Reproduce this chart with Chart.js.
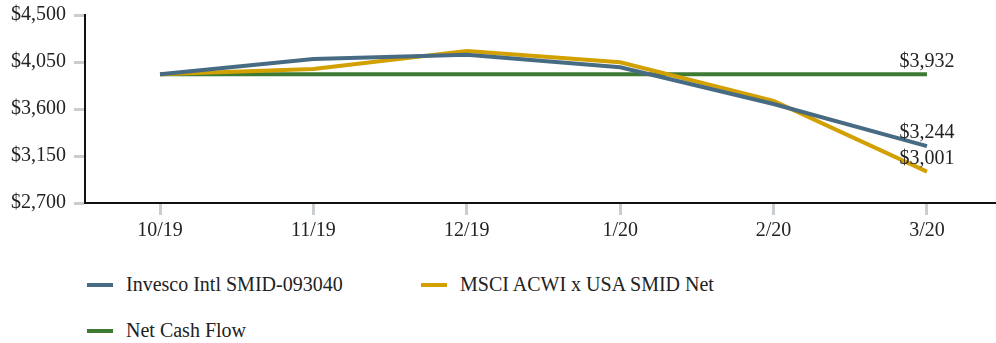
<!DOCTYPE html>
<html>
<head>
<meta charset="utf-8">
<script src="https://cdn.jsdelivr.net/npm/chart.js"></script>
<style>
  body { margin: 0; background: #fff; }
  #wrap { position: relative; width: 996px; height: 343px; }
  #chartBox { position: absolute; left: 0; top: 0; width: 996px; height: 260px; }
  .legend-item {
    position: absolute; display: flex; align-items: center;
    font-family: "Liberation Serif", "DejaVu Serif", serif; font-size: 20px; color: #222;
  }
  .legend-item .swatch { width: 26px; height: 4px; margin-right: 13px; }
</style>
</head>
<body>
<div id="wrap">
  <div id="chartBox"><canvas id="growthChart"></canvas></div>
  <div id="legend"></div>
</div>

<script>
/* ---------- DATA ---------- */
const months = ["10/19", "11/19", "12/19", "1/20", "2/20", "3/20"];
const invesco = [3932, 4079, 4119, 3999, 3648, 3244];
const msci = [3932, 3983, 4155, 4047, 3677, 3001];
const netCash = [3932, 3932, 3932, 3932, 3932, 3932];
const yTicks = [2700, 3150, 3600, 4050, 4500];

const seriesNames = ["Invesco Intl SMID-093040", "MSCI ACWI x USA SMID Net", "Net Cash Flow"];
const seriesColors = ["#486b84", "#d2a000", "#3e7a33"];

const fmt = v => "$" + v.toLocaleString("en-US");
const toPoints = arr => arr.map((v, i) => ({ x: i, y: v }));

/* ---------- END LABELS ---------- */
const endLabels = {
  id: "endLabels",
  afterDatasetsDraw(chart) {
    const ctx = chart.ctx;
    ctx.save();
    ctx.font = '20px "Liberation Serif", "DejaVu Serif", serif';
    ctx.fillStyle = "#222";
    ctx.textAlign = "center";
    ctx.textBaseline = "middle";
    chart.data.datasets.forEach((ds, i) => {
      const meta = chart.getDatasetMeta(i);
      const last = meta.data[meta.data.length - 1];
      const val = ds.data[ds.data.length - 1].y;
      ctx.fillText(fmt(val), last.x, last.y - 13);
    });
    ctx.restore();
  }
};

const serif = { family: '"Liberation Serif", "DejaVu Serif", serif', size: 20 };

new Chart(document.getElementById("growthChart"), {
  type: "line",
  data: {
    datasets: [invesco, msci, netCash].map((arr, i) => ({
      label: seriesNames[i],
      data: toPoints(arr),
      borderColor: seriesColors[i],
      backgroundColor: seriesColors[i],
      borderWidth: 4,
      pointRadius: 0,
      tension: 0
    }))
  },
  options: {
    responsive: true,
    maintainAspectRatio: false,
    animation: false,
    layout: { padding: { top: 15, right: 0, left: 0, bottom: 0 } },
    plugins: { legend: { display: false }, tooltip: { enabled: false } },
    scales: {
      x: {
        type: "linear",
        min: -0.489,
        max: 5.45,
        afterBuildTicks: s => { s.ticks = months.map((m, i) => ({ value: i })); },
        afterFit: s => { s.height = 57; s.paddingLeft = 0; s.paddingRight = 0; },
        ticks: {
          callback: v => months[v],
          color: "#222",
          font: serif,
          padding: 4,
          maxRotation: 0
        },
        grid: { drawOnChartArea: false, tickLength: 12, tickColor: "#c9ced3", tickWidth: 3 },
        border: { color: "#111", width: 2 }
      },
      y: {
        min: 2700,
        max: 4500,
        afterBuildTicks: s => { s.ticks = yTicks.map(v => ({ value: v })); },
        afterFit: s => { s.width = 85; s.paddingTop = 0; s.paddingBottom = 0; },
        ticks: {
          callback: v => fmt(v),
          color: "#222",
          font: serif,
          padding: 8
        },
        grid: { drawOnChartArea: false, tickLength: 11, tickColor: "#c9ced3", tickWidth: 3 },
        border: { color: "#111", width: 2 }
      }
    }
  },
  plugins: [endLabels]
});

/* ---------- LEGEND ---------- */
const legendPos = [[87, 285], [421, 285], [87, 331]];
document.getElementById("legend").innerHTML = seriesNames.map((name, i) => `
  <div class="legend-item" style="left:${legendPos[i][0]}px; top:${legendPos[i][1] - 12}px;">
    <span class="swatch" style="background:${seriesColors[i]}"></span>${name}
  </div>`).join("");
</script>
</body>
</html>
